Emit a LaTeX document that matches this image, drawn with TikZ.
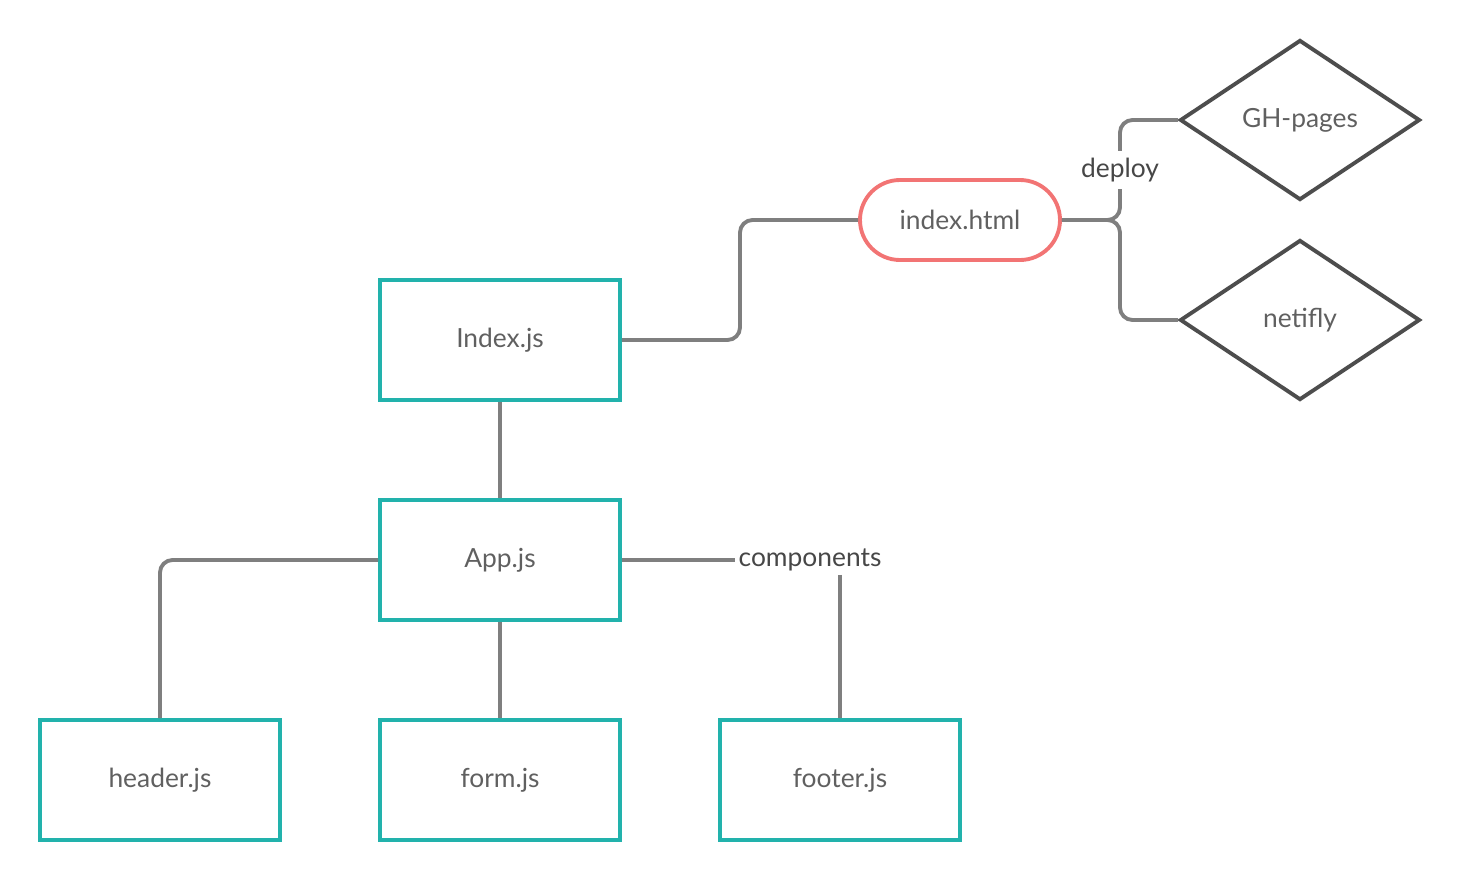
\documentclass[tikz,border=0pt]{standalone}
\usepackage{fontspec}
\setmainfont{Lato}
\usepackage{xcolor}
\usepackage{tikz}
\usetikzlibrary{shapes,positioning,calc}

\definecolor{tealbox}{HTML}{22B2AC}
\definecolor{pinkpill}{HTML}{F27474}
\definecolor{darkline}{HTML}{4D4D4D}
\definecolor{connline}{HTML}{7F7F7F}
\definecolor{boxtext}{HTML}{606060}
\definecolor{labtext}{HTML}{474747}

\begin{document}
\begin{tikzpicture}[
    every node/.style={font=\fontsize{15}{18}\selectfont, text=boxtext},
    filebox/.style={draw=tealbox, line width=2.2pt, minimum width=4.8cm, minimum height=2.4cm, inner sep=0pt},
    pill/.style={draw=pinkpill, line width=2.2pt, rounded corners=0.8cm, minimum width=4cm, minimum height=1.6cm, inner sep=0pt},
    hostdia/.style={diamond, draw=darkline, line width=2.2pt, minimum width=4.8cm, minimum height=3.2cm, inner sep=0pt},
    conn/.style={draw=connline, line width=2.2pt, rounded corners=0.25cm},
    tag/.style={fill=white, text=labtext, inner sep=3pt}
]
    \useasboundingbox (0,0) rectangle (29.2,-17.6);

    % files
    \node[filebox] (index) at (10,-6.8) {Index.js};
    \node[filebox] (app) at (10,-11.2) {App.js};
    \node[filebox] (header) at (3.2,-15.6) {header.js};
    \node[filebox] (form) at (10,-15.6) {form.js};
    \node[filebox] (footer) at (16.8,-15.6) {footer.js};

    % build and hosting
    \node[pill] (html) at (19.2,-4.4) {index.html};
    \node[hostdia] (gh) at (26,-2.4) {GH-pages};
    \node[hostdia] (netifly) at (26,-6.4) {netifly};

    \node[tag, inner sep=2pt] (comp) at (16.2,-11.2) {components};

    \draw[conn] (index.east) -| ($(index.east)!.5!(html.west)$) |- (html.west);
    \draw[conn] (index.south) -- (app.north);
    \draw[conn] (app.west) -| (header.north);
    \draw[conn] (app.south) -- (form.north);
    \draw[conn] (app.east) -- (comp.west);
    \draw[conn] (footer.north |- comp.south) -- (footer.north);

    \draw[conn] (html.east) -| ($(html.east)!.5!(gh.west)$) |- (gh.west);
    \draw[conn] (html.east) -| ($(html.east)!.5!(netifly.west)$) |- (netifly.west);
    \node[tag, inner sep=4pt] (deploy) at ($(html.east)!.5!(gh.west)$) {deploy};
\end{tikzpicture}
\end{document}
